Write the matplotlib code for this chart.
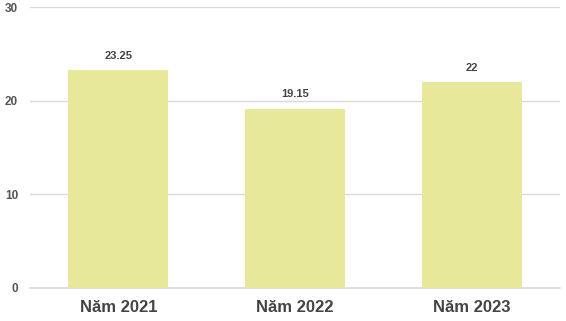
import matplotlib.pyplot as plt

plt.rcParams['font.family'] = ['Liberation Sans', 'DejaVu Sans']

categories = ["Năm 2021", "Năm 2022", "Năm 2023"]
values = [23.25, 19.15, 22]
value_labels = ["23.25", "19.15", "22"]
y_ticks = [0, 10, 20, 30]

fig = plt.figure(figsize=(5.66, 3.21), dpi=100)
ax = fig.add_axes([30/566, 33/321, 530/566, 281/321])

x = range(len(categories))
ax.bar(x, values, width=0.566, color="#e8e89a", zorder=2)

for xi, v, lab in zip(x, values, value_labels):
    ax.text(xi, v + 1.0, lab, ha="center", va="bottom", fontsize=8,
            fontweight="bold", color="#444444")

ax.set_xlim(-0.5, 2.5)
ax.set_ylim(0, 30)
ax.set_yticks(y_ticks)
ax.set_yticklabels([str(t) for t in y_ticks], fontsize=8.5, fontweight="bold", color="#555555")
ax.set_xticks(list(x))
ax.set_xticklabels(categories, fontsize=12, fontweight="bold", color="#444444")
ax.tick_params(axis="both", length=0)
ax.tick_params(axis="y", pad=8.5)
ax.tick_params(axis="x", pad=9)
ax.grid(axis="y", color="#d9d9d9", linewidth=1, zorder=0)
ax.axhline(0, color="#d9d9d9", linewidth=1.2, zorder=1, clip_on=False)
for s in ax.spines.values():
    s.set_visible(False)

fig.savefig("out.png", dpi=100)
